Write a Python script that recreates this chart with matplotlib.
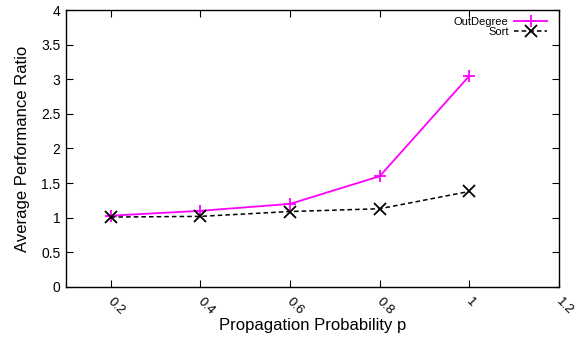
import matplotlib.pyplot as plt
import matplotlib.transforms as mtransforms

plt.rcParams['font.family'] = ['Liberation Sans', 'DejaVu Sans']

p = [0.2, 0.4, 0.6, 0.8, 1.0]
outdegree = [1.03, 1.10, 1.20, 1.60, 3.05]
sort_ratio = [1.01, 1.02, 1.09, 1.13, 1.38]

xticks = [0.2, 0.4, 0.6, 0.8, 1.0, 1.2]
xticklabels = ["0.2", "0.4", "0.6", "0.8", "1", "1.2"]
yticks = [0, 0.5, 1, 1.5, 2, 2.5, 3, 3.5, 4]
yticklabels = ["0", "0.5", "1", "1.5", "2", "2.5", "3", "3.5", "4"]

fig = plt.figure(figsize=(5.86, 3.39), dpi=100)
ax = fig.add_axes([0.1126, 0.1534, 0.8414, 0.8171])

ax.plot(p, outdegree, color="#ff00ff", lw=1.3, marker="+", ms=9, mew=1.3, label="OutDegree")
ax.plot(p, sort_ratio, color="black", lw=1.1, ls=(0, (3, 2)), marker="x", ms=8, mew=1.3, label="Sort")

ax.set_xlim(0.1, 1.2)
ax.set_ylim(0, 4)
ax.set_xticks(xticks)
ax.set_xticklabels(xticklabels, rotation=-45, ha="left", va="top", rotation_mode="anchor")
ax.set_yticks(yticks)
ax.set_yticklabels(yticklabels)
ax.tick_params(direction="in", length=5, width=0.8, top=True, right=True, labelsize=10, pad=4)
ax.tick_params(axis="x", pad=6, labelsize=9.5)
# nudge rotated x labels a little to the right
offset = mtransforms.ScaledTranslation(3 / 100, 0, fig.dpi_scale_trans)
for lab in ax.get_xticklabels():
    lab.set_transform(lab.get_transform() + offset)
for s in ax.spines.values():
    s.set_linewidth(1.0)

ax.set_xlabel("Propagation Probability p", fontsize=12, labelpad=1)
ax.set_ylabel("Average Performance Ratio", fontsize=12, labelpad=8)

ax.legend(loc="upper right", frameon=False, markerfirst=False, fontsize=8,
          handlelength=3, handletextpad=0.5, labelspacing=0.05,
          borderaxespad=0.2, bbox_to_anchor=(0.99, 1.0))

fig.savefig("out.png", dpi=100)
